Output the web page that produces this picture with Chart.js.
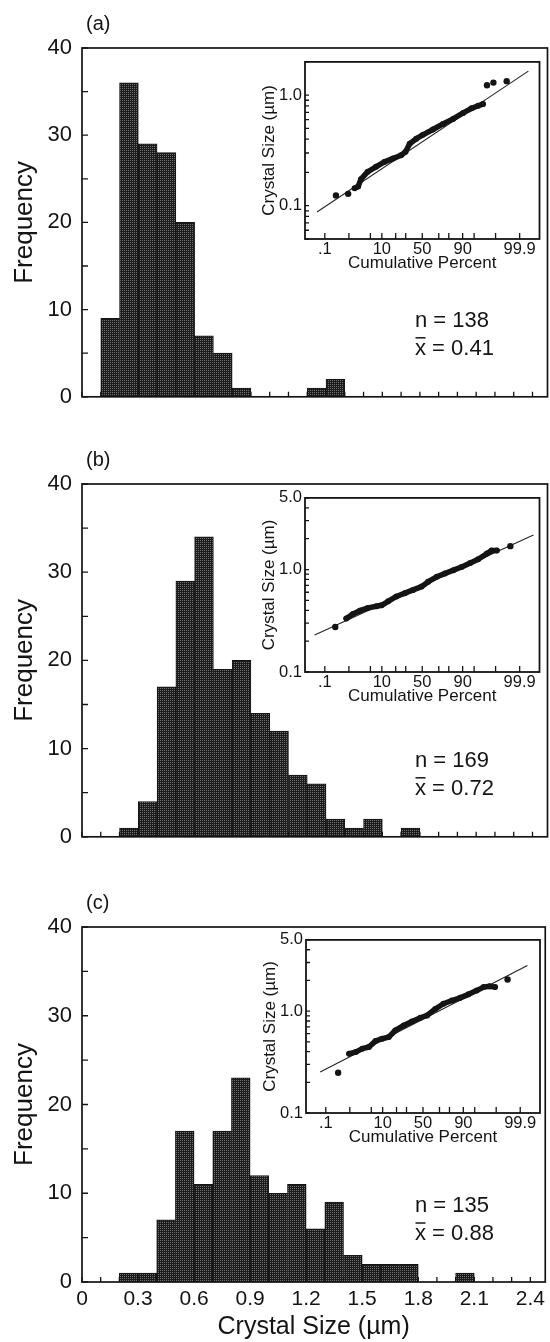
<!DOCTYPE html>
<html>
<head>
<meta charset="utf-8">
<title>Crystal size distributions</title>
<script src="https://cdn.jsdelivr.net/npm/chart.js@4.4.1/dist/chart.umd.min.js"></script>
<style>
  html, body { margin: 0; padding: 0; background: #fff; }
  #page { position: relative; width: 550px; height: 1342px; overflow: hidden; background: #fff; }
  #page canvas { position: absolute; }
</style>
</head>
<body>
<div id="page">
  <canvas id="histA" width="550" height="420" style="left:0;top:0"></canvas>
  <canvas id="histB" width="550" height="430" style="left:0;top:430px"></canvas>
  <canvas id="histC" width="550" height="472" style="left:0;top:870px"></canvas>
  <canvas id="probA" width="315" height="230" style="left:235px;top:49px"></canvas>
  <canvas id="probB" width="315" height="227" style="left:235px;top:485px"></canvas>
  <canvas id="probC" width="314" height="226" style="left:236px;top:927px"></canvas>
</div>
<script>
const FONT = '"Liberation Sans", Arial, Helvetica, sans-serif';
const INK = '#141414';
Chart.defaults.font.family = FONT;
Chart.defaults.color = INK;

// histogram bins, 0.1 um wide (left edges)
const BIN_LEFT = [0.0, 0.1, 0.2, 0.3, 0.4, 0.5, 0.6, 0.7, 0.8, 0.9, 1.0, 1.1,
                  1.2, 1.3, 1.4, 1.5, 1.6, 1.7, 1.8, 1.9, 2.0, 2.1, 2.2, 2.3];
const COUNT_A = [0, 9, 36, 29, 28, 20, 7, 5, 1, 0, 0, 0, 1, 2, 0, 0, 0, 0, 0, 0, 0, 0, 0, 0];
const COUNT_B = [0, 0, 1, 4, 17, 29, 34, 19, 20, 14, 12, 7, 6, 2, 1, 2, 0, 1, 0, 0, 0, 0, 0, 0];
const COUNT_C = [0, 0, 1, 1, 7, 17, 11, 17, 23, 12, 10, 11, 6, 9, 3, 2, 2, 2, 0, 0, 1, 0, 0, 0];
const MEANS = ['0.41', '0.72', '0.88'];

const X_TICKS = [0, 0.1, 0.2, 0.3, 0.4, 0.5, 0.6, 0.7, 0.8, 0.9, 1.0, 1.1, 1.2,
                 1.3, 1.4, 1.5, 1.6, 1.7, 1.8, 1.9, 2.0, 2.1, 2.2, 2.3, 2.4];
const X_LABELED = [0, 0.3, 0.6, 0.9, 1.2, 1.5, 1.8, 2.1, 2.4];
const Y_TICKS = [0, 5, 10, 15, 20, 25, 30, 35, 40];

// probability-plot axes
const PCT_TICKS = [0.1, 1, 5, 10, 20, 30, 50, 70, 80, 90, 95, 99, 99.9];
const PCT_LABELED = [0.1, 10, 50, 90, 99.9];
const PCT_TEXT = ['.1', '10', '50', '90', '99.9'];
const SIZE_TICKS = [0.05, 0.06, 0.07, 0.08, 0.09, 0.1, 0.2, 0.3, 0.4, 0.5, 0.6, 0.7,
                    0.8, 0.9, 1, 2, 3, 4, 5];

// cumulative percent vs crystal size (um), sample (a)
const A_PCT = [1.6, 2.1, 2.6, 4.2, 7.1, 11.5, 17.6, 25.1, 29.8, 34.5, 42.5, 50.8, 63.3,
               74.5, 83.6, 90.3, 94.1, 96.2, 97.3];
const A_SIZE = [0.144, 0.149, 0.174, 0.203, 0.225, 0.249, 0.267, 0.286, 0.307, 0.364, 0.404,
                0.438, 0.489, 0.550, 0.610, 0.690, 0.760, 0.802, 0.830];
const A_TAIL_PCT = [0.31, 0.94, 98.0, 98.8, 99.63];
const A_TAIL_SIZE = [0.124, 0.128, 1.23, 1.30, 1.34];
const A_FIT_PCT = [0.042, 99.962];
const A_FIT_SIZE = [0.0877, 1.65];

// sample (b)
const B_PCT = [0.80, 1.39, 2.39, 4.27, 7.35, 9.85, 14.0, 20.6, 29.1, 38.6, 49.2, 57.5, 67.7,
               76.4, 83.9, 89.4, 93.6, 96.2, 98.0, 98.6, 99.1];
const B_SIZE = [0.333, 0.369, 0.397, 0.422, 0.438, 0.448, 0.489, 0.546, 0.588, 0.633, 0.681,
                0.760, 0.850, 0.916, 0.986, 1.06, 1.16, 1.26, 1.43, 1.53, 1.53];
const B_TAIL_PCT = [0.29, 99.74];
const B_TAIL_SIZE = [0.275, 1.69];
const B_FIT_PCT = [0.032, 99.979];
const B_FIT_SIZE = [0.230, 2.17];

// sample (c)
const C_PCT = [0.94, 1.62, 2.68, 4.27, 6.55, 9.68, 13.8, 18.9, 27.1, 36.3, 46.8, 55.2, 65.2,
               74.2, 82.1, 88.1, 92.6, 95.6, 97.3, 98.3, 98.9];
const C_SIZE = [0.382, 0.396, 0.428, 0.444, 0.508, 0.536, 0.556, 0.646, 0.723, 0.792, 0.861,
                0.907, 1.05, 1.18, 1.27, 1.35, 1.46, 1.59, 1.72, 1.75, 1.72];
const C_TAIL_PCT = [0.35, 99.64];
const C_TAIL_SIZE = [0.248, 2.04];
const C_FIT_PCT = [0.054, 99.955];
const C_FIT_SIZE = [0.252, 2.80];

// inverse normal CDF (Acklam), p in (0, 1)
function normalQuantile(p) {
  const a = [-39.69683028665376, 220.9460984245205, -275.9285104469687, 138.3577518672690, -30.66479806614716, 2.506628277459239];
  const b = [-54.47609879822406, 161.5858368580409, -155.6989798598866, 66.80131188771972, -13.28068155288572];
  const c = [-0.007784894002430293, -0.3223964580411365, -2.400758277161838, -2.549732539343734, 4.374664141464968, 2.938163982698783];
  const d = [0.007784695709041462, 0.3224671290700398, 2.445134137142996, 3.754408661907416];
  const lo = 0.02425;
  if (p < lo) {
    const q = Math.sqrt(-2 * Math.log(p));
    return (((((c[0] * q + c[1]) * q + c[2]) * q + c[3]) * q + c[4]) * q + c[5]) /
           ((((d[0] * q + d[1]) * q + d[2]) * q + d[3]) * q + 1);
  }
  if (p > 1 - lo) {
    const q = Math.sqrt(-2 * Math.log(1 - p));
    return -(((((c[0] * q + c[1]) * q + c[2]) * q + c[3]) * q + c[4]) * q + c[5]) /
            ((((d[0] * q + d[1]) * q + d[2]) * q + d[3]) * q + 1);
  }
  const q = p - 0.5, r = q * q;
  return (((((a[0] * r + a[1]) * r + a[2]) * r + a[3]) * r + a[4]) * r + a[5]) * q /
         (((((b[0] * r + b[1]) * r + b[2]) * r + b[3]) * r + b[4]) * r + 1);
}

function normalCdf(z) {
  const t = 1 / (1 + 0.3275911 * Math.abs(z) / Math.SQRT2);
  const e = 1 - (((((1.061405429 * t - 1.453152027) * t) + 1.421413741) * t - 0.284496736) * t + 0.254829592) * t * Math.exp(-z * z / 2);
  return z >= 0 ? (1 + e) / 2 : (1 - e) / 2;
}

// probability-paper axis: values are cumulative percent, spaced by normal quantile
class ProbitScale extends Chart.Scale {
  determineDataLimits() {
    this.min = this.options.min;
    this.max = this.options.max;
  }
  buildTicks() {
    return [];
  }
  configure() {
    super.configure();
    this._zMin = normalQuantile(this.min / 100);
    this._zMax = normalQuantile(this.max / 100);
  }
  getLabelForValue(value) {
    return String(value);
  }
  getPixelForValue(value) {
    const z = normalQuantile(value / 100);
    return this.getPixelForDecimal((z - this._zMin) / (this._zMax - this._zMin));
  }
  getValueForPixel(pixel) {
    const z = this._zMin + this.getDecimalForPixel(pixel) * (this._zMax - this._zMin);
    return 100 * normalCdf(z);
  }
}
ProbitScale.id = 'probit';
ProbitScale.defaults = {};
Chart.register(ProbitScale);

// inward tick marks plus a closed frame around the plot area
const axesBox = {
  id: 'axesBox',
  beforeDatasetsDraw(chart, args, o) {
    const { ctx, chartArea: a, scales: { x, y } } = chart;
    ctx.save();
    ctx.strokeStyle = INK;
    ctx.lineWidth = o.tickWidth;
    ctx.beginPath();
    x.ticks.forEach(t => {
      const px = x.getPixelForValue(t.value);
      ctx.moveTo(px, a.bottom);
      ctx.lineTo(px, a.bottom - o.xTick);
    });
    y.ticks.forEach(t => {
      const py = y.getPixelForValue(t.value);
      ctx.moveTo(a.left, py);
      ctx.lineTo(a.left + o.yTick, py);
    });
    ctx.stroke();
    ctx.restore();
  },
  afterDatasetsDraw(chart, args, o) {
    const { ctx, chartArea: a } = chart;
    ctx.save();
    ctx.strokeStyle = INK;
    ctx.lineWidth = o.frame;
    ctx.strokeRect(a.left, a.top, a.right - a.left, a.bottom - a.top);
    ctx.restore();
  }
};

// panel letter and the n / mean note
const notes = {
  id: 'notes',
  afterDraw(chart, args, o) {
    const { ctx, chartArea: a } = chart;
    ctx.save();
    ctx.fillStyle = INK;
    ctx.textBaseline = 'middle';
    ctx.font = '20px ' + FONT;
    ctx.fillText(o.panel, a.left + 4, a.top - 24);

    ctx.textBaseline = 'alphabetic';
    ctx.font = '22px ' + FONT;
    const x0 = 415;
    ctx.fillText('n = ' + o.n, x0, a.bottom - 70);
    const yb = a.bottom - 42;
    ctx.fillText('x', x0, yb);
    const w = ctx.measureText('x').width;
    ctx.fillText(' = ' + o.mean, x0 + w, yb);
    ctx.strokeStyle = INK;
    ctx.lineWidth = 1.5;
    ctx.beginPath();
    ctx.moveTo(x0 + 0.5, yb - 17);
    ctx.lineTo(x0 + w - 0.5, yb - 17);
    ctx.stroke();
    ctx.restore();
  }
};

function dotPattern() {
  const tile = document.createElement('canvas');
  tile.width = 2;
  tile.height = 2;
  const g = tile.getContext('2d');
  g.fillStyle = '#1b1b1b';
  g.fillRect(0, 0, 2, 2);
  g.fillStyle = '#727272';
  g.fillRect(0, 0, 1, 1);
  return g.createPattern(tile, 'repeat');
}
const dots = dotPattern();

function near(v, list) {
  return list.findIndex(u => Math.abs(u - v) < 1e-6);
}

function histogram(id, counts, mean, panel, box) {
  const bars = BIN_LEFT.map((left, i) => ({ x: left + 0.05, y: counts[i] })).filter(p => p.y > 0);
  const n = counts.reduce((s, c) => s + c, 0);
  return new Chart(document.getElementById(id), {
    type: 'bar',
    data: {
      datasets: [{
        data: bars,
        backgroundColor: dots,
        borderColor: INK,
        borderWidth: 1,
        borderSkipped: false,
        barPercentage: 1,
        categoryPercentage: 1
      }]
    },
    options: {
      responsive: false,
      animation: false,
      events: [],
      layout: { padding: { top: box.top, right: 2.5, bottom: 0, left: 0 } },
      plugins: {
        legend: { display: false },
        tooltip: { enabled: false },
        axesBox: { xTick: 5, yTick: 6, frame: 1.7, tickWidth: 1.3 },
        notes: { panel: panel, n: n, mean: mean }
      },
      scales: {
        x: {
          type: 'linear',
          min: 0,
          max: 2.48,
          offset: false,
          grid: { display: false, drawTicks: false },
          border: { display: false },
          afterBuildTicks: s => { s.ticks = X_TICKS.map(v => ({ value: v })); },
          afterFit: s => { s.height = box.bottom; },
          ticks: {
            display: box.labels,
            autoSkip: false,
            maxRotation: 0,
            padding: 5,
            font: { size: 21 },
            callback: v => near(v, X_LABELED) < 0 ? '' : (v === 0 ? '0' : v.toFixed(1))
          },
          title: {
            display: box.labels,
            text: 'Crystal Size (µm)',
            font: { size: 25 },
            padding: { top: 0, bottom: 0 }
          }
        },
        y: {
          min: 0,
          max: 40,
          grid: { display: false, drawTicks: false },
          border: { display: false },
          afterBuildTicks: s => { s.ticks = Y_TICKS.map(v => ({ value: v })); },
          afterFit: s => { s.width = 82; },
          ticks: {
            autoSkip: false,
            padding: 10,
            font: { size: 22 },
            callback: v => v % 10 === 0 ? String(v) : ''
          },
          title: {
            display: true,
            text: 'Frequency',
            font: { size: 26 },
            padding: { top: 9, bottom: 0 }
          }
        }
      }
    },
    plugins: [axesBox, notes]
  });
}

function pairs(xs, ys) {
  return xs.map((x, i) => ({ x: x, y: ys[i] }));
}

function probPlot(id, band, tail, fit, yMin, yMax, right) {
  return new Chart(document.getElementById(id), {
    type: 'scatter',
    data: {
      datasets: [{
        data: band,
        showLine: true,
        borderColor: INK,
        borderWidth: 5.5,
        borderCapStyle: 'round',
        borderJoinStyle: 'round',
        pointRadius: 3,
        pointBackgroundColor: INK,
        pointBorderWidth: 0
      }, {
        data: tail,
        pointRadius: 3.2,
        pointBackgroundColor: INK,
        pointBorderWidth: 0
      }, {
        data: fit,
        showLine: true,
        borderColor: '#222',
        borderWidth: 1.1,
        pointRadius: 0
      }]
    },
    options: {
      responsive: false,
      animation: false,
      events: [],
      layout: { padding: { top: 12, right: right, bottom: 0, left: 0 } },
      plugins: {
        legend: { display: false },
        tooltip: { enabled: false },
        axesBox: { xTick: 6, yTick: 4, frame: 1.8, tickWidth: 1.3 }
      },
      scales: {
        x: {
          type: 'probit',
          min: 0.01,
          max: 99.99,
          grid: { display: false, drawTicks: false },
          border: { display: false },
          afterBuildTicks: s => { s.ticks = PCT_TICKS.map(v => ({ value: v })); },
          afterFit: s => { s.height = 40; },
          ticks: {
            autoSkip: false,
            maxRotation: 0,
            padding: 1,
            font: { size: 16.5 },
            callback: v => { const k = near(v, PCT_LABELED); return k < 0 ? '' : PCT_TEXT[k]; }
          },
          title: {
            display: true,
            text: 'Cumulative Percent',
            font: { size: 17 },
            padding: { top: 0, bottom: 5 }
          }
        },
        y: {
          type: 'logarithmic',
          min: yMin,
          max: yMax,
          grid: { display: false, drawTicks: false },
          border: { display: false },
          afterBuildTicks: s => {
            s.ticks = SIZE_TICKS.filter(v => v >= yMin - 1e-9 && v <= yMax + 1e-9).map(v => ({ value: v }));
          },
          afterFit: s => { s.width = 70; },
          ticks: {
            autoSkip: false,
            padding: 3,
            font: { size: 16.5 },
            callback: v => (near(v, [0.1, 1, 5]) < 0 ? '' : v.toFixed(1))
          },
          title: {
            display: true,
            text: 'Crystal Size (µm)',
            font: { size: 17 },
            padding: { top: 24, bottom: 0 }
          }
        }
      }
    },
    plugins: [axesBox]
  });
}

histogram('histA', COUNT_A, MEANS[0], '(a)', { top: 48, bottom: 17, labels: false });
histogram('histB', COUNT_B, MEANS[1], '(b)', { top: 54, bottom: 21, labels: false });
histogram('histC', COUNT_C, MEANS[2], '(c)', { top: 57, bottom: 60, labels: true });

probPlot('probA', pairs(A_PCT, A_SIZE), pairs(A_TAIL_PCT, A_TAIL_SIZE), pairs(A_FIT_PCT, A_FIT_SIZE), 0.05, 2, 10.5);
probPlot('probB', pairs(B_PCT, B_SIZE), pairs(B_TAIL_PCT, B_TAIL_SIZE), pairs(B_FIT_PCT, B_FIT_SIZE), 0.1, 5, 10.5);
probPlot('probC', pairs(C_PCT, C_SIZE), pairs(C_TAIL_PCT, C_TAIL_SIZE), pairs(C_FIT_PCT, C_FIT_SIZE), 0.1, 5, 10);
</script>
</body>
</html>
